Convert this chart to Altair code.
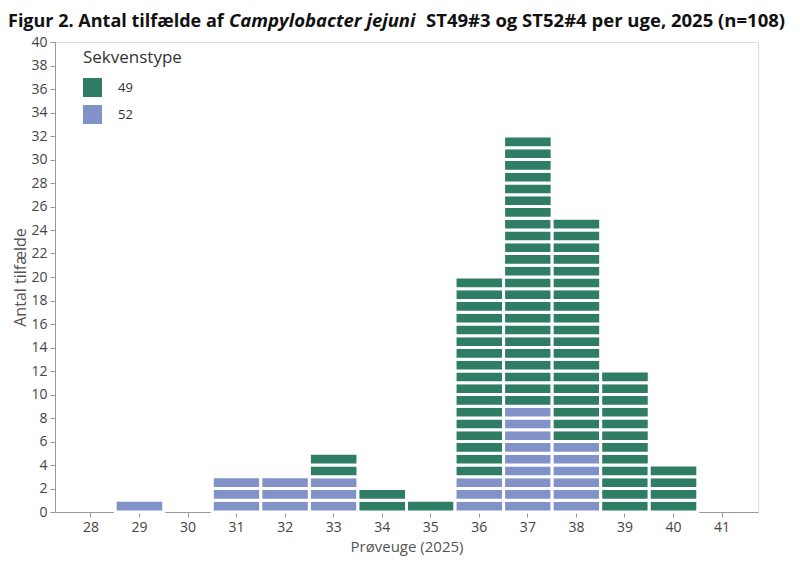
import altair as alt
import pandas as pd

weeks = [28, 29, 30, 31, 32, 33, 34, 35, 36, 37, 38, 39, 40, 41]
st49 = [0, 0, 0, 0, 0, 2, 2, 1, 17, 23, 19, 12, 4, 0]
st52 = [0, 1, 0, 3, 3, 3, 0, 0, 3, 9, 6, 0, 0, 0]
types = ["49", "52"]
colors = ["#2e7d64", "#8092c8"]
y_ticks = list(range(0, 41, 2))

title_parts = ["Figur 2. Antal tilfælde af", "Campylobacter jejuni",
               "ST49#3 og ST52#4 per uge, 2025 (n=108)"]

FONT = "Open Sans"

rows = []
for w, a, b in zip(weeks, st49, st52):
    k = 0
    for _ in range(b):
        rows.append({"week": str(w), "type": "52", "ord": k, "one": 1})
        k += 1
    for _ in range(a):
        rows.append({"week": str(w), "type": "49", "ord": k, "one": 1})
        k += 1
df = pd.DataFrame(rows)

bars = alt.Chart(df).mark_bar(stroke="white", strokeWidth=3).encode(
    x=alt.X("week:O",
            scale=alt.Scale(domain=[str(w) for w in weeks], paddingInner=0.0, paddingOuter=0.24),
            axis=alt.Axis(title="Prøveuge (2025)", labelAngle=0, labelFont=FONT, labelFontSize=14,
                          labelColor="#444444", titleFont=FONT, titleFontSize=15,
                          titleFontWeight="normal", titleColor="#555555", domainColor="#999999",
                          tickColor="#999999", tickSize=5, titlePadding=5, labelPadding=3)),
    y=alt.Y("one:Q", stack="zero",
            scale=alt.Scale(domain=[0, 40], nice=False),
            axis=alt.Axis(title="Antal tilfælde", values=y_ticks, grid=False, labelFont=FONT,
                          labelFontSize=14, labelColor="#444444", titleFont=FONT, titleFontSize=16,
                          titleFontWeight="normal", titleColor="#555555", domainColor="#999999",
                          tickColor="#999999", tickSize=5, labelPadding=3, titlePadding=2)),
    color=alt.Color("type:N", scale=alt.Scale(domain=types, range=colors),
                    legend=alt.Legend(title="Sekvenstype", orient="none", legendX=28, legendY=8,
                                      titleFont=FONT, titleFontSize=17, titleFontWeight="normal",
                                      titleColor="#333333", labelFont=FONT, labelFontSize=13,
                                      labelColor="#333333", symbolType="square", symbolSize=361,
                                      symbolStrokeWidth=0, symbolOpacity=1, rowPadding=8,
                                      titlePadding=11, labelOffset=16)),
    order=alt.Order("ord:Q"),
    detail="ord:Q",
)

tdf = pd.DataFrame({"t": title_parts, "i": [0, 1, 2]})
base_t = alt.Chart(tdf)
t1 = base_t.transform_filter("datum.i == 0").mark_text(
    align="left", baseline="alphabetic", font=FONT, fontSize=18, fontWeight="bold", color="#111111"
).encode(text="t:N", x=alt.value(-47), y=alt.value(-15))
t2 = base_t.transform_filter("datum.i == 1").mark_text(
    align="left", baseline="alphabetic", font=FONT, fontSize=18.5, fontWeight="bold",
    fontStyle="italic", color="#111111"
).encode(text="t:N", x=alt.value(174), y=alt.value(-15))
t3 = base_t.transform_filter("datum.i == 2").mark_text(
    align="left", baseline="alphabetic", font=FONT, fontSize=18.5, fontWeight="bold", color="#111111"
).encode(text="t:N", x=alt.value(371), y=alt.value(-15))

chart = alt.layer(bars, t1, t2, t3).properties(
    width=703, height=470,
    autosize=alt.AutoSizeParams(type="none"),
    padding={"left": 47, "top": 34, "right": 34, "bottom": 48},
).configure_view(stroke=None).configure(background="white")

chart.save("out.html", embed_options={"renderer": "svg", "actions": False})
